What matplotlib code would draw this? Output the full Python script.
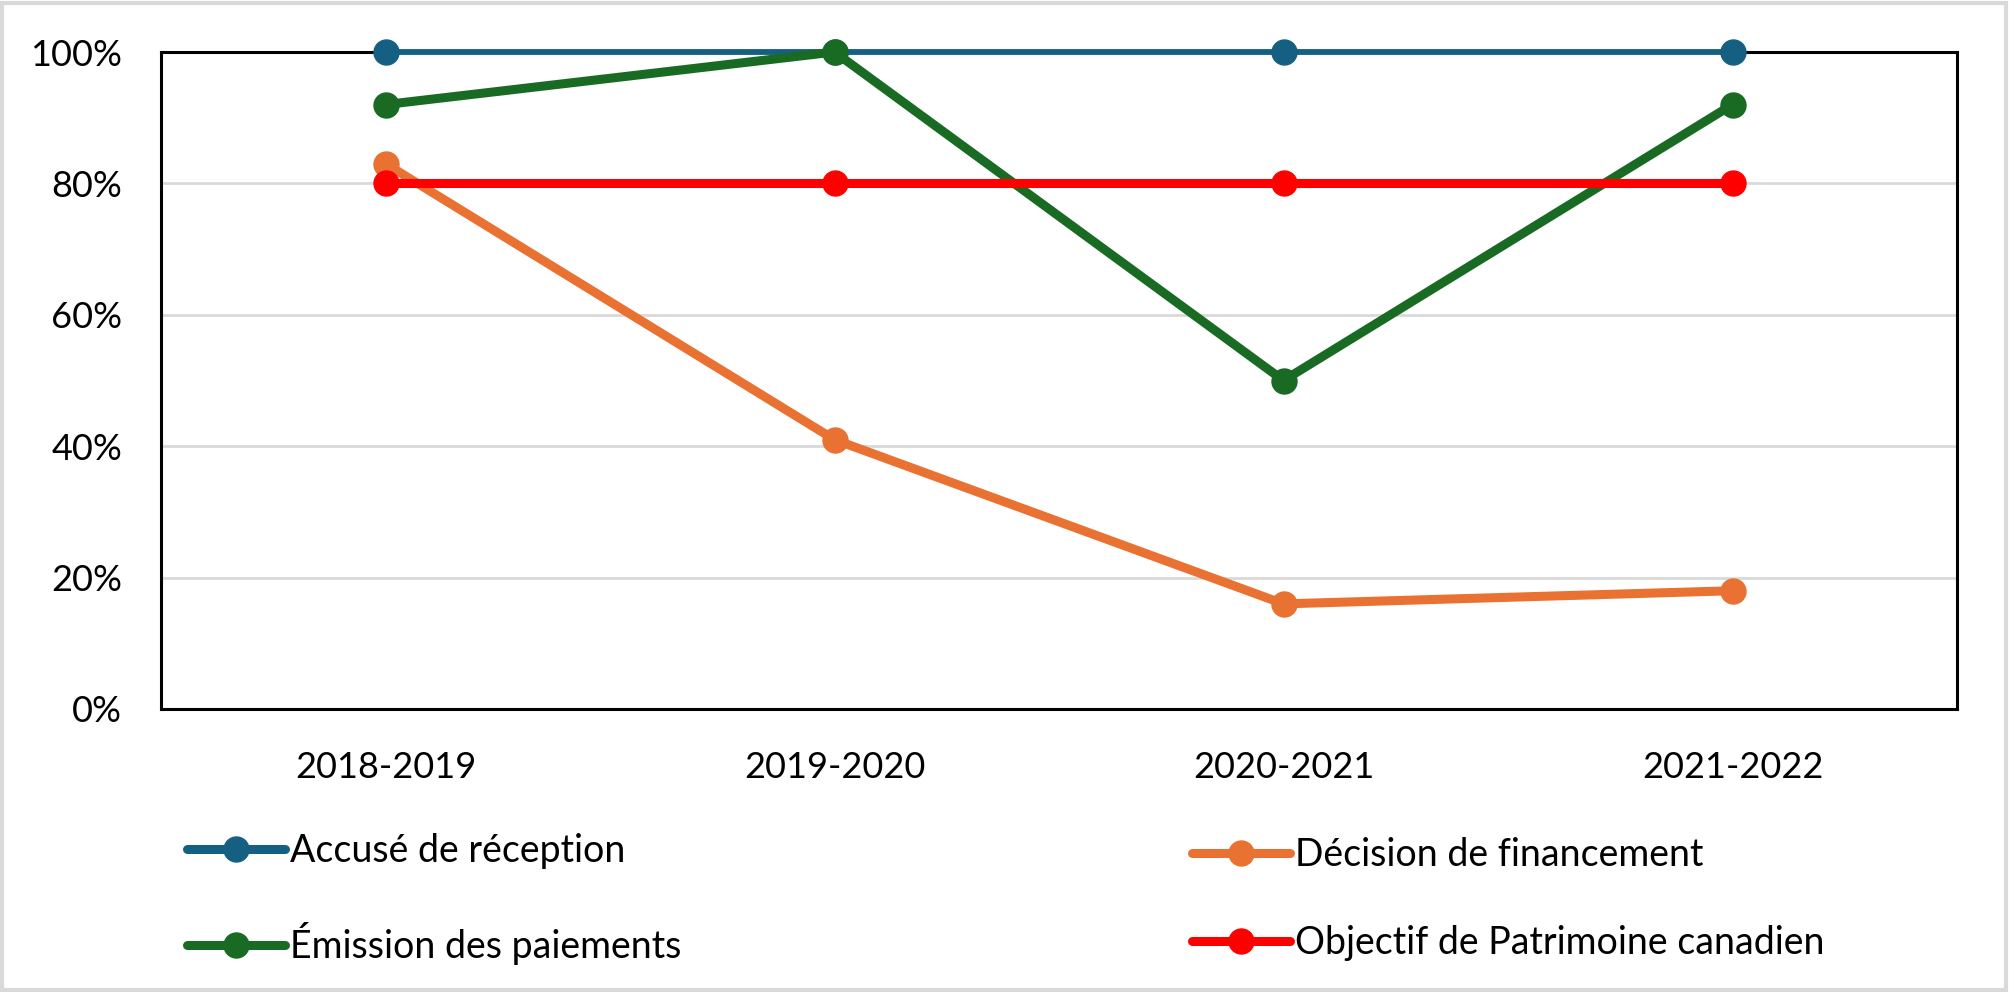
import matplotlib.pyplot as plt
from matplotlib.lines import Line2D
from matplotlib.patches import Rectangle
from matplotlib.ticker import FuncFormatter

plt.rcParams['font.family'] = ['Lato', 'DejaVu Sans']

years = ["2018-2019", "2019-2020", "2020-2021", "2021-2022"]
accuse = [100, 100, 100, 100]
decision = [83, 41, 16, 18]
emission = [92, 100, 50, 92]
objectif = [80, 80, 80, 80]

series = [
    ("Accusé de réception", accuse, "#156082", 4.2),
    ("Décision de financement", decision, "#E97132", 6.5),
    ("Émission des paiements", emission, "#196B24", 6.5),
    ("Objectif de Patrimoine canadien", objectif, "#FF0000", 6.5),
]

fig = plt.figure(figsize=(20.10, 9.92), dpi=100)
ax = fig.add_axes([161 / 2010, 1 - 709 / 992, (1957 - 161) / 2010, (709 - 52) / 992])

x = range(len(years))
handles = {}
for i, (name, vals, col, lw) in enumerate(series):
    ax.plot(x, vals, color=col, linewidth=lw, marker="o", markersize=18,
            solid_capstyle="round", clip_on=False, zorder=3 + i, label=name)
    # legend keys are all drawn with the same thick line
    handles[name] = Line2D([], [], color=col, linewidth=6.5, marker="o", markersize=18,
                           solid_capstyle="round")

ax.set_xlim(-0.5, 3.5)
ax.set_ylim(0, 100)
ax.set_yticks([0, 20, 40, 60, 80, 100])
ax.yaxis.set_major_formatter(FuncFormatter(lambda v, p: f"{v:.0f}%"))
ax.set_xticks(list(x))
ax.set_xticklabels(years)
ax.tick_params(axis="both", length=0, labelsize=26, colors="black")
ax.tick_params(axis="x", pad=30)
ax.tick_params(axis="y", pad=28)
ax.grid(axis="y", color="#d9d9d9", linewidth=2)
ax.set_axisbelow(True)
for s in ax.spines.values():
    s.set_color("black")
    s.set_linewidth(2.2)
    s.set_zorder(2)

leg_kw = dict(frameon=False, fontsize=27, handlelength=2.6, handletextpad=0.15,
              labelspacing=1.4, numpoints=1, borderpad=0, borderaxespad=0)
leg1 = fig.legend([handles["Accusé de réception"], handles["Émission des paiements"]],
                  ["Accusé de réception", "Émission des paiements"],
                  loc="center left", bbox_to_anchor=(187 / 2010, 1 - 899 / 992), **leg_kw)
leg2 = fig.legend([handles["Décision de financement"], handles["Objectif de Patrimoine canadien"]],
                  ["Décision de financement", "Objectif de Patrimoine canadien"],
                  loc="center left", bbox_to_anchor=(1192 / 2010, 1 - 899 / 992), **leg_kw)

fig.patches.append(Rectangle((0.001, 0.002), 0.997, 0.995, transform=fig.transFigure,
                             fill=False, edgecolor="#d9d9d9", linewidth=3))

fig.savefig("out.png", dpi=100, facecolor="white")
